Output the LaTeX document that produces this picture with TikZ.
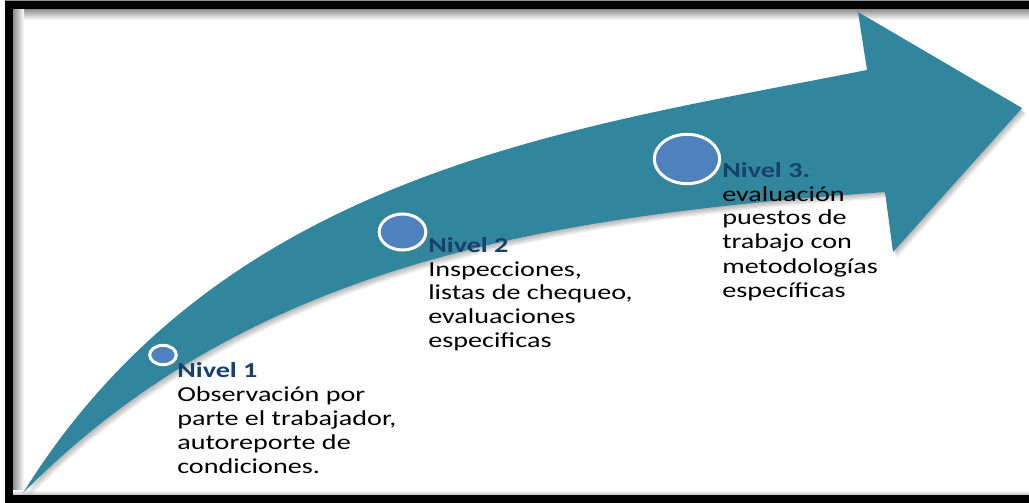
\documentclass[tikz,border=0pt]{standalone}
\usepackage{fontspec}
\setmainfont{Carlito}[FakeStretch=1.32]
\usetikzlibrary{shapes.geometric,shadows}
\definecolor{arrowcol}{HTML}{31859C}
\definecolor{dotcol}{HTML}{4F81BD}
\definecolor{nivelcol}{HTML}{17406D}
\tikzset{
  dot/.style={ellipse, fill=dotcol, draw=white, line width=2.25pt, inner sep=0pt,
    drop shadow={shadow xshift=1.5pt, shadow yshift=-2pt, opacity=0.25}},
  label/.style={anchor=base west, inner sep=0pt, text=black,
    font=\fontsize{16pt}{18pt}\selectfont},
}
\newcommand{\lvl}[1]{{\bfseries\color{nivelcol}#1}}
\newcommand{\arrowpath}{%
  (23,493) .. controls (224,170) and (573,128.5) .. (867,70)
  -- (858,12) -- (1022,108) -- (893,252) -- (885,192)
  .. controls (560,215) and (254,259) .. (23,493) -- cycle}
\begin{document}
\begin{tikzpicture}[x=0.75pt, y=-0.75pt]
\useasboundingbox (0,0) rectangle (1029,503);
\fill[white] (0,0) rectangle (1029,503);
% inner shadow of the frame
\shade[top color=black!45, bottom color=white] (13,9) rectangle (1029,20);
\shade[left color=black!45, right color=white] (13,9) rectangle (24,495);
\shade[bottom color=black!25, top color=white] (13,490) rectangle (1029,495);
% frame
\fill[black!45] (5,0) rectangle (1029,1);
\fill[black] (5,1) rectangle (1029,9);
\fill[black] (5,1) rectangle (13,503);
\fill[black] (5,495) rectangle (1029,503);
% arrow shadow
\foreach \d in {1,2,3,4,5}{
  \fill[black, opacity=0.06, shift={(\d*0.8,\d*1.2)}] \arrowpath;
}
% arrow
\fill[arrowcol] \arrowpath;
% level dots
\node[dot, minimum width=20pt, minimum height=14.5pt] (c1) at (163,355) {};
\node[dot, minimum width=35pt, minimum height=27pt] (c2) at (402.5,232) {};
\node[dot, minimum width=49pt, minimum height=37pt] (c3) at (687,159) {};
% labels
\node[label] (t1) at (177,377) {\parbox[t]{250pt}{\raggedright\leavevmode
  \lvl{Nivel 1}\\Observación por\\parte el trabajador,\\autoreporte de\\condiciones.}};
\node[label] (t2) at (428,252) {\parbox[t]{250pt}{\raggedright\leavevmode
  \lvl{Nivel 2}\\Inspecciones,\\listas de chequeo,\\evaluaciones\\especificas}};
\node[label] (t3) at (722,177) {\parbox[t]{250pt}{\raggedright\leavevmode
  \lvl{Nivel 3.}\\evaluación\\puestos de\\trabajo con\\metodologías\\específicas}};
\end{tikzpicture}
\end{document}
